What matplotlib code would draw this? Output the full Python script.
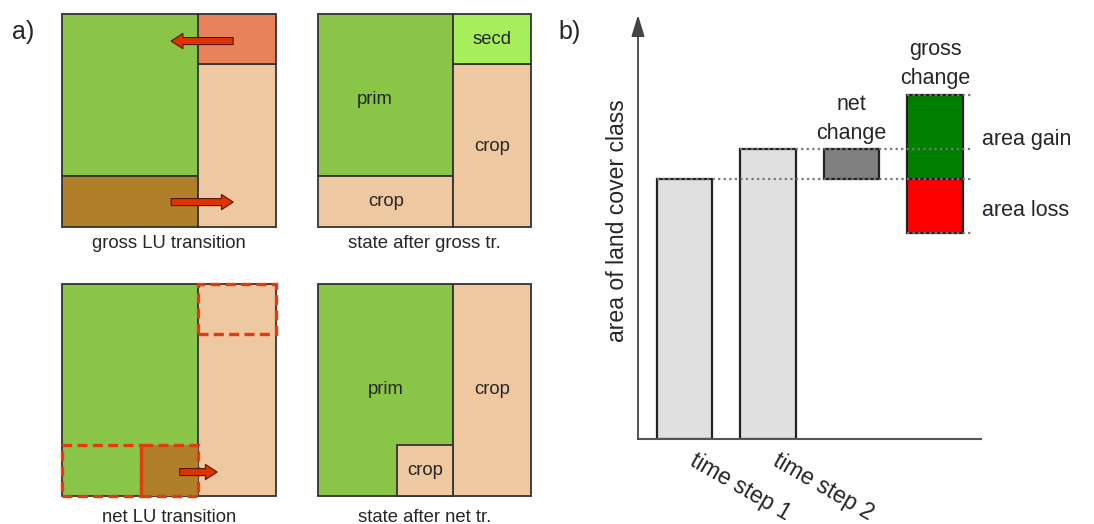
import matplotlib.pyplot as plt
from matplotlib.patches import Rectangle, FancyArrow

plt.rcParams['font.family'] = ['Liberation Sans', 'DejaVu Sans']

# ---- panel a: land use shares of one grid cell (fractions of the cell) ----
prim_share = 0.636      # width of the primary land column
gross_to_crop = 0.24    # strip of primary land cleared for crops (gross)
gross_abandon = 0.235   # strip of crop land abandoned -> secondary (gross)
net_crop_x0 = 0.37      # start of the net crop clearing in the primary column

# ---- panel b: area of one land cover class ----
step_labels = ['time step 1', 'time step 2']
step_area = [26.0, 29.0]
area_gain = 8.4
area_loss = 5.4

GREEN = '#89c647'
BROWN = '#b07f2a'
ORANGE = '#e8825c'
BEIGE = '#eec8a0'
SECD = '#a7ee5b'
ARROW = '#dd3300'
DASH = '#e33a12'
EDGE = '#333333'
TXT = '#262626'

fig = plt.figure(figsize=(10.94, 5.24), dpi=100)
W, H = 1094, 524


def box_axes(x0, y0, x1, y1):
    ax = fig.add_axes([x0 / W, 1 - y1 / H, (x1 - x0) / W, (y1 - y0) / H])
    ax.set_xlim(0, 1)
    ax.set_ylim(0, 1)
    ax.axis('off')
    return ax


def cell(ax, x, y, w, h, color):
    ax.add_patch(Rectangle((x, y), w, h, facecolor=color, edgecolor=EDGE,
                           lw=1.3, clip_on=False))


def dash_box(ax, x, y, w, h):
    ax.add_patch(Rectangle((x, y), w, h, fill=False, edgecolor=DASH, lw=2.4,
                           ls=(0, (3, 1.6)), clip_on=False, zorder=5))


def red_arrow(ax, x0, x1, y):
    ax.add_patch(FancyArrow(x0, y, x1 - x0, 0, width=0.033, head_width=0.072,
                            head_length=0.055, length_includes_head=True,
                            facecolor=ARROW, edgecolor='#5a1500', lw=0.8,
                            zorder=6))


def caption(ax, s, off):
    ax.text(0.5, -off, s, transform=ax.transAxes, ha='center', va='center',
            fontsize=13.3, color=TXT)


p = prim_share
# gross LU transition
ax1 = box_axes(62, 14, 276, 227)
cell(ax1, 0, gross_to_crop, p, 1 - gross_to_crop, GREEN)
cell(ax1, 0, 0, p, gross_to_crop, BROWN)
cell(ax1, p, 0, 1 - p, 1 - gross_abandon, BEIGE)
cell(ax1, p, 1 - gross_abandon, 1 - p, gross_abandon, ORANGE)
red_arrow(ax1, 0.80, 0.51, 0.873)
red_arrow(ax1, 0.51, 0.80, 0.117)
caption(ax1, 'gross LU transition', 0.078)

# state after gross transition
ax2 = box_axes(318, 14, 531, 227)
cell(ax2, 0, gross_to_crop, p, 1 - gross_to_crop, GREEN)
cell(ax2, 0, 0, p, gross_to_crop, BEIGE)
cell(ax2, p, 0, 1 - p, 1 - gross_abandon, BEIGE)
cell(ax2, p, 1 - gross_abandon, 1 - p, gross_abandon, SECD)
kw = dict(ha='center', va='center', fontsize=13.3, color=TXT)
ax2.text(p / 2 - 0.05, 0.60, 'prim', **kw)
ax2.text((1 + p) / 2, 1 - gross_abandon / 2, 'secd', **kw)
ax2.text((1 + p) / 2, 0.38, 'crop', **kw)
ax2.text(p / 2, gross_to_crop / 2, 'crop', **kw)
caption(ax2, 'state after gross tr.', 0.078)

# net LU transition
ax3 = box_axes(62, 284, 276, 496)
cell(ax3, 0, 0, p, 1, GREEN)
cell(ax3, p, 0, 1 - p, 1, BEIGE)
ax3.add_patch(Rectangle((net_crop_x0, 0), p - net_crop_x0, gross_to_crop,
                        facecolor=BROWN, lw=0))
dash_box(ax3, p, 1 - gross_abandon, 1 - p, gross_abandon)
dash_box(ax3, 0, 0, net_crop_x0, gross_to_crop)
dash_box(ax3, net_crop_x0, 0, p - net_crop_x0, gross_to_crop)
red_arrow(ax3, 0.55, 0.725, 0.113)
caption(ax3, 'net LU transition', 0.10)

# state after net transition
ax4 = box_axes(318, 284, 531, 496)
cell(ax4, 0, 0, p, 1, GREEN)
cell(ax4, p, 0, 1 - p, 1, BEIGE)
cell(ax4, net_crop_x0, 0, p - net_crop_x0, gross_to_crop, BEIGE)
ax4.text(0.32, 0.50, 'prim', **kw)
ax4.text((1 + p) / 2, 0.50, 'crop', **kw)
ax4.text((net_crop_x0 + p) / 2, gross_to_crop / 2, 'crop', **kw)
caption(ax4, 'state after net tr.', 0.10)

fig.text(12 / W, 1 - 32 / H, 'a)', fontsize=18, color=TXT, va='center')
fig.text(558 / W, 1 - 32 / H, 'b)', fontsize=18, color=TXT, va='center')

# ---- panel b ----
axb = fig.add_axes([638 / W, 1 - 439 / H, 343 / W, 424 / H])
bw = 0.66
xs = [0, 1]
axb.bar(xs, step_area, width=bw, color='#e0e0e0', edgecolor='#222222', lw=1.6,
        zorder=2)
net = step_area[1] - step_area[0]
axb.bar(2, net, bottom=step_area[0], width=bw, color='#808080',
        edgecolor='#222222', lw=1.6, zorder=2)
axb.bar(3, area_gain, bottom=step_area[0], width=bw, color='#008000',
        edgecolor='#222222', lw=1.6, zorder=2)
axb.bar(3, area_loss, bottom=step_area[0] - area_loss, width=bw,
        color='#ff0000', edgecolor='#222222', lw=1.6, zorder=2)

right = 3.44
dot = dict(color='#777777', lw=1.6, ls=(0, (1, 1.5)), zorder=3)
axb.hlines(step_area[0], -bw / 2, right, **dot)
axb.hlines(step_area[1], 1 - bw / 2, right, **dot)
axb.hlines(step_area[0] + area_gain, 3 - bw / 2, right, **dot)
axb.hlines(step_area[0] - area_loss, 3 - bw / 2, right, **dot)

axb.set_xlim(-0.557, 3.551)
axb.set_ylim(0, 42.4)
tk = dict(fontsize=15.5, color=TXT)
axb.text(2, 32.0, 'net\nchange', ha='center', va='center', linespacing=1.45,
         **tk)
axb.text(3, 37.5, 'gross\nchange', ha='center', va='center', linespacing=1.45,
         **tk)
axb.text(3.56, 29.9, 'area gain', ha='left', va='center', clip_on=False, **tk)
axb.text(3.56, 22.9, 'area loss', ha='left', va='center', clip_on=False, **tk)

for s in ['top', 'right', 'left']:
    axb.spines[s].set_visible(False)
axb.spines['bottom'].set_color('#555555')
axb.spines['bottom'].set_linewidth(1.5)
axb.annotate('', xy=(0, 1), xytext=(0, 0), xycoords='axes fraction',
             arrowprops=dict(arrowstyle='-|>,head_length=0.65,head_width=0.2',
                             color='#444444', lw=1.3, mutation_scale=20,
                             shrinkA=0, shrinkB=0))
axb.set_yticks([])
axb.set_xticks([])
# slanted time step labels below each bar
for x, lab in zip(xs, step_labels):
    axb.annotate(lab, xy=(x, 0), xycoords=('data', 'axes fraction'),
                 xytext=(9, -7), textcoords='offset points', rotation=-30,
                 rotation_mode='anchor', ha='left', va='top', fontsize=16.5,
                 color=TXT, annotation_clip=False)
axb.set_ylabel('area of land cover class', fontsize=16.6, color=TXT)
axb.yaxis.set_label_coords(-0.025, 0.514)

fig.savefig('out.png', dpi=100)
